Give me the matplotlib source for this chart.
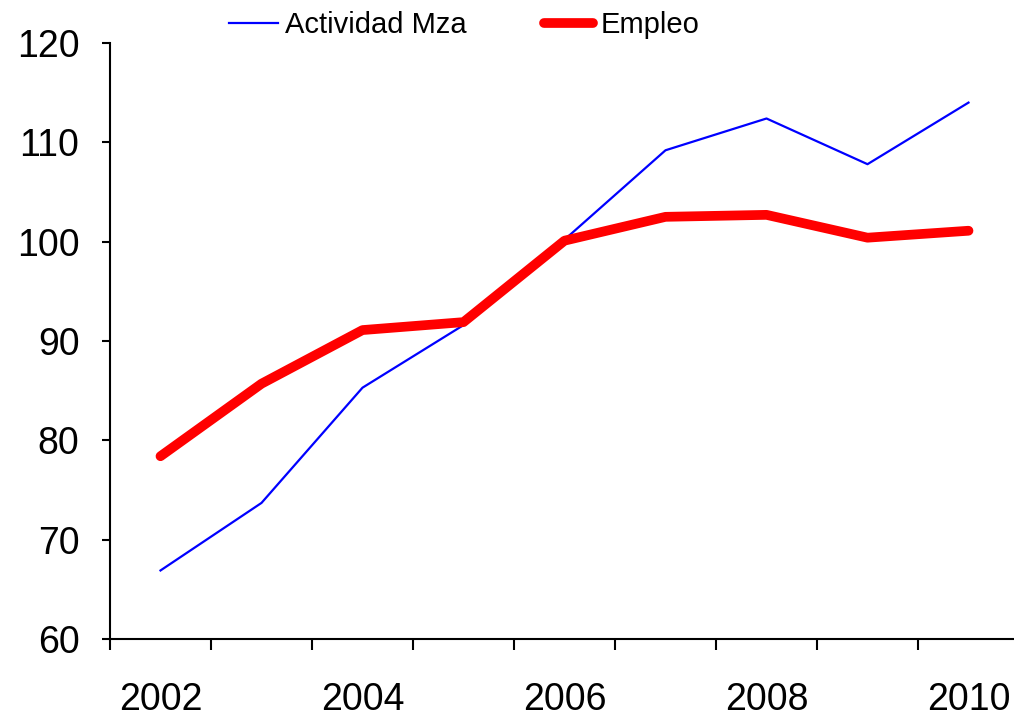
import matplotlib.pyplot as plt

plt.rcParams['font.family'] = ['Liberation Sans', 'DejaVu Sans']

years = ['2002', '2003', '2004', '2005', '2006', '2007', '2008', '2009', '2010']
actividad = [66.9, 73.7, 85.3, 91.6, 100.2, 109.2, 112.4, 107.8, 114.0]
empleo = [78.4, 85.7, 91.1, 91.9, 100.1, 102.5, 102.7, 100.4, 101.1]

fig = plt.figure(figsize=(10.14, 7.17), dpi=100)
ax = fig.add_axes([110 / 1014, 78 / 717, 909 / 1014, 596 / 717])

x = range(len(years))
ax.plot(x, actividad, color='#0000ff', linewidth=1.6, label='Actividad Mza')
ax.plot(x, empleo, color='#ff0000', linewidth=7, solid_capstyle='round',
        solid_joinstyle='round', label='Empleo')

ax.set_xlim(-0.5, 8.5)
ax.set_ylim(60, 120)
ax.set_yticks(range(60, 121, 10))

# ticks between categories, labels on every other year
ax.set_xticks([i + 0.5 for i in range(-1, 8)])
ax.set_xticklabels([])
ax.set_xticks(list(x)[::2], minor=True)
ax.set_xticklabels(years[::2], minor=True)
ax.tick_params(axis='x', which='major', direction='out', length=8, width=1.5)
ax.tick_params(axis='x', which='minor', length=0, pad=31, labelsize=27)
ax.tick_params(axis='y', direction='out', length=6, width=1.5, pad=16, labelsize=27)

for s in ['top', 'right']:
    ax.spines[s].set_visible(False)
for s in ['left', 'bottom']:
    ax.spines[s].set_linewidth(1.5)

fig.legend(loc='center', bbox_to_anchor=(0.4576, 0.965), ncol=2, frameon=False,
           fontsize=21, handlelength=1.68, handletextpad=0.24, columnspacing=2.67)

fig.savefig('out.png', dpi=100)
